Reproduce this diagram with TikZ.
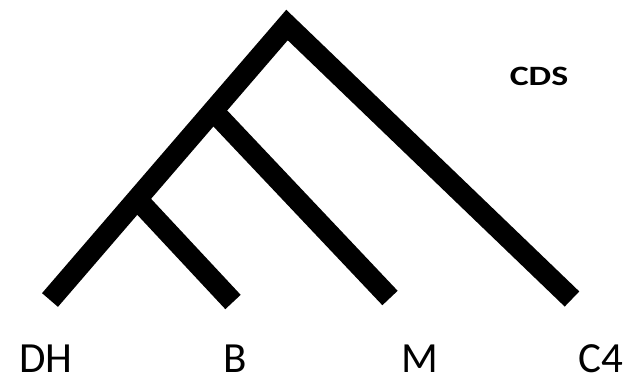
\documentclass[tikz,border=0pt]{standalone}
\usepackage{fontspec}
\setmainfont{Carlito}
\usetikzlibrary{calc}
\begin{document}
\begin{tikzpicture}[x=1pt,y=-1pt,
  branch/.style={line width=21pt,line cap=butt,line join=miter,black},
  leaf/.style={anchor=base,font=\fontsize{43}{50}\selectfont,inner sep=0pt,text depth=0pt},
  lbl/.style={anchor=base,font=\fontsize{28}{32}\selectfont\bfseries,inner sep=0pt}]
\useasboundingbox (0,0) rectangle (632,381);
\coordinate (root) at (287,25);
\coordinate (dh) at (50,300);
\coordinate (c4) at (572,299);
\coordinate (n1) at ($(dh)!0.688!(root)$);
\coordinate (n2) at ($(dh)!0.367!(root)$);
\coordinate (m) at (390,298);
\coordinate (b) at (233,302);
\draw[branch] (dh) -- (root) -- (c4);
\draw[branch] (n1) -- (m);
\draw[branch] (n2) -- (b);
\node[leaf] (tDH) at (46,372) {DH};
\node[leaf] (tB) at (235,372) {B};
\node[leaf] (tM) at (420,372) {M};
\node[leaf] (tC4) at (601,372) {C4};
\node[lbl] (tCDS) at (539,85) {\scalebox{1.28}[1]{CDS}};
\end{tikzpicture}
\end{document}
